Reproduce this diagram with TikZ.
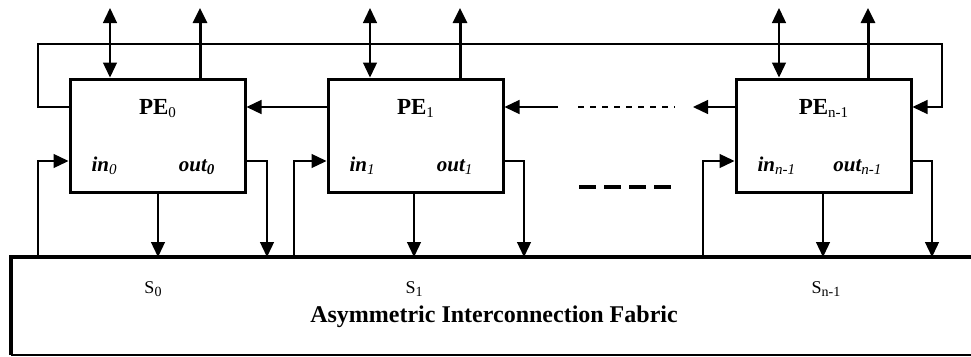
\documentclass[tikz,border=0pt]{standalone}
\usepackage{fontspec}
\setmainfont{Liberation Serif}
\usetikzlibrary{arrows.meta}
\newcommand{\subup}[1]{\raisebox{-3.5pt}{\fontsize{15}{15}\selectfont\mdseries\upshape #1}}
\newcommand{\subit}[1]{\raisebox{-3.5pt}{\fontsize{15}{15}\selectfont\mdseries\itshape #1}}
\newcommand{\subbi}[1]{\raisebox{-3.5pt}{\fontsize{15}{15}\selectfont\bfseries\itshape #1}}
\newcommand{\subs}[1]{\raisebox{-3.5pt}{\fontsize{14}{14}\selectfont #1}}
\begin{document}
\begin{tikzpicture}[x=1pt,y=-1pt,
  tip/.tip={Triangle[length=15pt,width=14pt]},
  pebox/.style={draw,line width=3pt,minimum width=175pt,minimum height=113pt,inner sep=0pt},
  wire/.style={line width=1.3pt},
  arr/.style={wire,-tip},
  biarr/.style={wire,tip-tip},
  fatarr/.style={line width=3pt,-tip},
  pelabel/.style={anchor=base,font=\fontsize{23}{23}\selectfont\bfseries},
  portlabel/.style={font=\fontsize{21}{21}\selectfont\bfseries\itshape},
  slabel/.style={anchor=base,font=\fontsize{18}{18}\selectfont},
  line cap=butt]
\useasboundingbox (0,0) rectangle (971,356);

% PE boxes
\node[pebox] (pe0) at (157.5,135.5) {};
\node[pebox] (pe1) at (415.5,135.5) {};
\node[pebox] (pen) at (823.5,135.5) {};

% labels
\node[pelabel] (lpe0) at (157.5,114) {PE\subup{0}};
\node[pelabel] (lpe1) at (415.5,114) {PE\subup{1}};
\node[pelabel] (lpen) at (823.5,114) {PE\subup{n-1}};
\node[portlabel,anchor=base west] (in0) at (88,171) {in\subit{0}};
\node[portlabel,anchor=base east] (out0) at (218,171) {out\subbi{0}};
\node[portlabel,anchor=base west] (in1) at (346,171) {in\subit{1}};
\node[portlabel,anchor=base east] (out1) at (476,171) {out\subit{1}};
\node[portlabel,anchor=base west] (inn) at (754,171) {in\subit{n-1}};
\node[portlabel,anchor=base east] (outn) at (885,171) {out\subit{n-1}};

% fabric
\draw[line width=3.5pt] (11,355) -- (11,257) -- (971,257);
\draw[line width=1.2pt] (11,355) -- (971,355);
\node[inner sep=0pt,minimum width=960pt,minimum height=98pt,anchor=north west] (fab) at (11,257) {};
\node[slabel] (s0) at (153,293) {S\subs{0}};
\node[slabel] (s1) at (414,293) {S\subs{1}};
\node[slabel] (sn) at (826,293) {S\subs{n-1}};
\node[anchor=base,font=\fontsize{24}{24}\selectfont\bfseries] (fabt) at (494,322) {Asymmetric Interconnection Fabric};

% coordinates
\coordinate (t0a) at (110,8);  \coordinate (t0b) at (200,8);
\coordinate (t1a) at (370,8);  \coordinate (t1b) at (460,8);
\coordinate (tna) at (779,8);  \coordinate (tnb) at (868,8);
\coordinate (io) at (0,161);
\coordinate (fb) at (0,107);
\coordinate (topL) at (38,44);
\coordinate (topR) at (942,44);
\coordinate (f0i) at (38,257);  \coordinate (f0a) at (158,257); \coordinate (f0b) at (267,257);
\coordinate (f1i) at (294,257); \coordinate (f1a) at (414,257); \coordinate (f1b) at (524,257);
\coordinate (fni) at (703,257); \coordinate (fna) at (823,257); \coordinate (fnb) at (932,257);
\coordinate (d1) at (558,107); \coordinate (d2) at (578,107); \coordinate (d3) at (675,107);
\coordinate (d4) at (693,107);
\coordinate (e1) at (579,187); \coordinate (e2) at (673,187);

% top arrows
\draw[biarr] (pe0.north -| t0a) -- (t0a);
\draw[fatarr] (pe0.north -| t0b) -- (t0b);
\draw[biarr] (pe1.north -| t1a) -- (t1a);
\draw[fatarr] (pe1.north -| t1b) -- (t1b);
\draw[biarr] (pen.north -| tna) -- (tna);
\draw[fatarr] (pen.north -| tnb) -- (tnb);

% ring feedback
\draw[arr] (pe0.west |- fb) -- (topL |- fb) -- (topL) -- (topR) -- (topR |- fb) -- (pen.east |- fb);
\draw[arr] (pe1.west |- fb) -- (pe0.east |- fb);
\draw[arr] (d1) -- (pe1.east |- fb);
\draw[wire,dash pattern=on 6pt off 6pt] (d2) -- (d3);
\draw[arr] (pen.west |- fb) -- (d4);
\draw[line width=4.5pt,dash pattern=on 17pt off 8pt] (e1) -- (e2);

% bottom connections
\draw[arr] (pe0.south -| f0a) -- (f0a);
\draw[arr] (pe1.south -| f1a) -- (f1a);
\draw[arr] (pen.south -| fna) -- (fna);
\draw[arr] (pe0.east |- io) -- (f0b |- io) -- (f0b);
\draw[arr] (pe1.east |- io) -- (f1b |- io) -- (f1b);
\draw[arr] (pen.east |- io) -- (fnb |- io) -- (fnb);
\draw[arr] (f0i) -- (f0i |- io) -- (pe0.west |- io);
\draw[arr] (f1i) -- (f1i |- io) -- (pe1.west |- io);
\draw[arr] (fni) -- (fni |- io) -- (pen.west |- io);
\end{tikzpicture}
\end{document}
